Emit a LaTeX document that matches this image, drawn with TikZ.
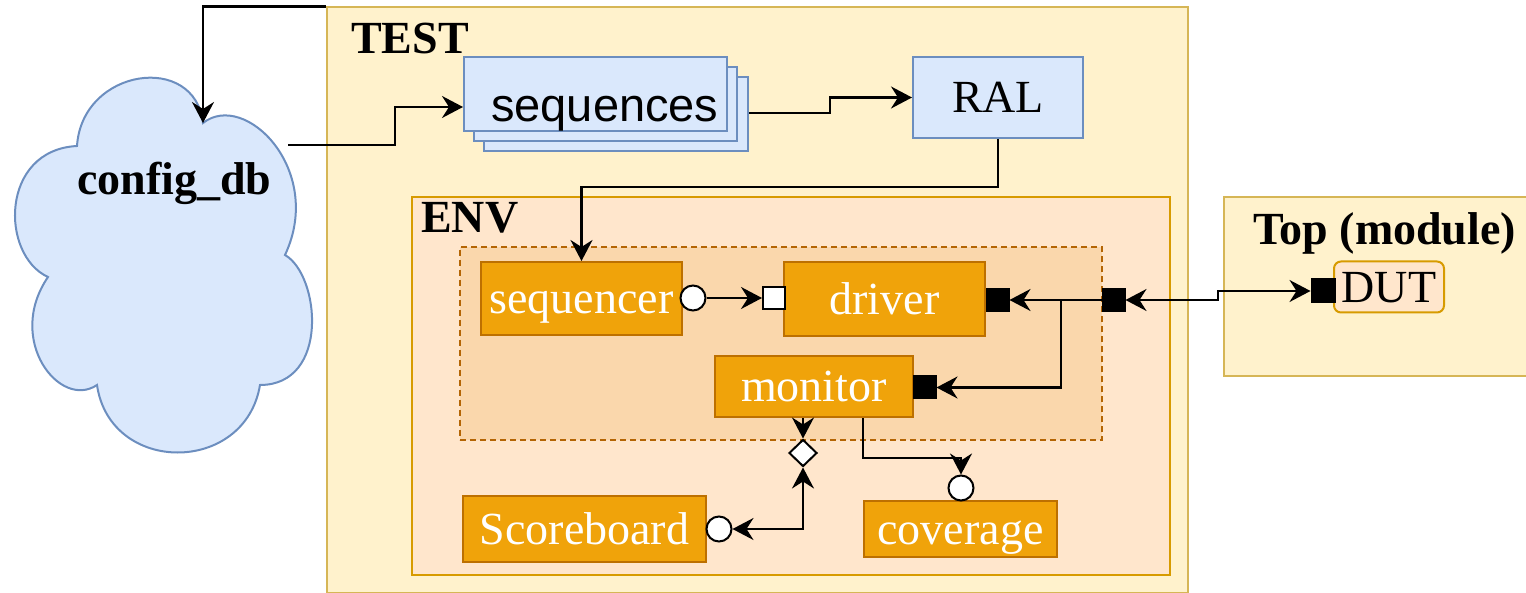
\documentclass[tikz,border=0pt]{standalone}
\usepackage{fontspec}
\setmainfont{Liberation Serif}
\newfontfamily\arialfont{Liberation Sans}
\usetikzlibrary{arrows.meta,shapes.geometric,calc}
\definecolor{testfill}{HTML}{FFF2CC}
\definecolor{testdraw}{HTML}{D6B656}
\definecolor{envfill}{HTML}{FFE6CC}
\definecolor{envdraw}{HTML}{D79B00}
\definecolor{agfill}{HTML}{FAD7AC}
\definecolor{agdraw}{HTML}{B46504}
\definecolor{compfill}{HTML}{F0A30A}
\definecolor{compdraw}{HTML}{BD7000}
\definecolor{bluefill}{HTML}{DAE8FC}
\definecolor{bluedraw}{HTML}{6C8EBF}
\begin{document}
\begin{tikzpicture}[x=1pt,y=-1pt,
  big/.style={font=\fontsize{46}{55}\selectfont},
  lbl/.style={anchor=base west, inner sep=0pt, font=\fontsize{46}{55}\selectfont\bfseries},
  boxbase/.style={draw, line width=2pt, inner sep=0pt, text height=41pt, text depth=10pt, big},
  testbox/.style={boxbase, fill=testfill, draw=testdraw},
  envbox/.style={boxbase, fill=envfill, draw=envdraw},
  agbox/.style={boxbase, fill=agfill, draw=agdraw, dash pattern=on 6pt off 4pt},
  comp/.style={boxbase, fill=compfill, draw=compdraw, text=white},
  bluebox/.style={boxbase, fill=bluefill, draw=bluedraw},
  dutbox/.style={boxbase, fill=envfill, draw=envdraw, rounded corners=7pt},
  circport/.style={circle, draw=black, fill=white, line width=2pt, inner sep=0pt, minimum size=25pt},
  wsq/.style={rectangle, draw=black, fill=white, line width=2pt, inner sep=0pt, minimum size=22pt},
  bsq/.style={rectangle, draw=black, fill=black, line width=1pt, inner sep=0pt, minimum size=23pt},
  diam/.style={diamond, draw=black, fill=white, line width=2pt, inner sep=0pt, minimum width=28pt, minimum height=27pt},
  arr/.style={draw=black, line width=2.2pt, -{Stealth[length=21pt,width=22pt,inset=7pt]}},
  darr/.style={draw=black, line width=2.2pt, {Stealth[length=21pt,width=22pt,inset=7pt]}-{Stealth[length=21pt,width=22pt,inset=7pt]}},
]
\useasboundingbox (0,0) rectangle (1526,593);

% containers
\node[testbox, minimum width=861pt, minimum height=585pt] (test) at (757.5,300) {};
\node[testbox, minimum width=320pt, minimum height=179pt] (top) at (1384,286.5) {};
\node[envbox, minimum width=758pt, minimum height=378pt] (env) at (791,386) {};
\node[agbox, minimum width=642pt, minimum height=193pt] (agent) at (781,343.5) {};

\node[lbl] (testlbl) at (351,54) {TEST};
\node[lbl] (envlbl) at (421,233) {ENV};
\node[lbl] (toplbl) at (1253,245) {Top (module)};

% cloud
\draw[fill=bluefill, draw=bluedraw, line width=2pt]
  (77,146) .. controls (82,68) and (195,52) .. (203,123)
  .. controls (245,90) and (325,170) .. (285,255)
  .. controls (320,275) and (330,385) .. (260,385)
  .. controls (245,475) and (110,475) .. (97,385)
  .. controls (60,410) and (5,340) .. (48,277)
  .. controls (0,255) and (0,150) .. (77,146) -- cycle;
\coordinate (cloudtop) at (203,123);
\coordinate (cloudR) at (288,145);
\node[lbl] (cfglbl) at (77,195) {config\_db};

% sequences stack and RAL
\node[bluebox, minimum width=264pt, minimum height=74pt] (seqC) at (616,114) {};
\node[bluebox, minimum width=263pt, minimum height=74pt] (seqB) at (605.5,104) {};
\node[bluebox, minimum width=263pt, minimum height=74pt] (seq) at (595.5,94) {};
\node[anchor=base west, inner sep=0pt, font=\arialfont\fontsize{47}{56}\selectfont] (seqlbl) at (491,122) {sequences};
\node[bluebox, minimum width=170pt, minimum height=81pt] (ral) at (998,97.5) {RAL};

% components
\node[comp, minimum width=201pt, minimum height=73pt] (sqr) at (581.5,298.5) {sequencer};
\node[comp, minimum width=201pt, minimum height=74pt] (drv) at (884.5,299) {driver};
\node[comp, minimum width=198pt, minimum height=61pt] (mon) at (814,386.5) {monitor};
\node[comp, minimum width=243pt, minimum height=66pt] (sb) at (584.5,529) {Scoreboard};
\node[comp, minimum width=193pt, minimum height=56pt] (cov) at (960.5,529) {coverage};
\node[dutbox, minimum width=110pt, minimum height=50pt] (dut) at (1389,287) {DUT};

% ports
\node[circport] (sqrport) at (693,298) {};
\node[wsq] (drvin) at (774,298) {};
\node[bsq] (drvport) at (997.5,300) {};
\node[bsq] (agport) at (1113.5,300) {};
\node[bsq] (monport) at (924.5,387.5) {};
\node[diam] (ap) at (803,453) {};
\node[circport] (sbport) at (719,529) {};
\node[circport] (covport) at (961,488) {};
\node[bsq, minimum size=24pt] (dutport) at (1323,291) {};

% helper x positions
\coordinate (k1) at (395,0);
\coordinate (k2) at (830,0);
\coordinate (k3) at (1061,0);
\coordinate (k4) at (1218,0);
\coordinate (seqout) at ($(seqC.east)+(0,-1)$);
\coordinate (seqin) at ($(seq.west)+(0,13)$);

% connectors
\draw[arr] (test.north west) -| (cloudtop);
\draw[arr] (cloudR) -- (cloudR -| k1) |- (seqin);
\draw[arr] (seqout) -- (seqout -| k2) |- (ral.west);
\draw[arr] (ral.south) -- ++(0,48) -| (sqr.north);
\draw[arr] (sqrport.east) -- (drvin.west);
\draw[arr] (agport.west) -- (drvport.east);
\draw[arr] (agport.west -| k3) |- (monport.east);
\draw[darr] (agport.east) -- (agport.east -| k4) |- (dutport.west);
\draw[arr] (ap.north |- mon.south) -- (ap.north);
\draw[darr] (sbport.east) -| (ap.south);
\draw[arr] ([xshift=49pt]mon.south) -- ++(0,40) -| (covport.north);
\end{tikzpicture}
\end{document}
